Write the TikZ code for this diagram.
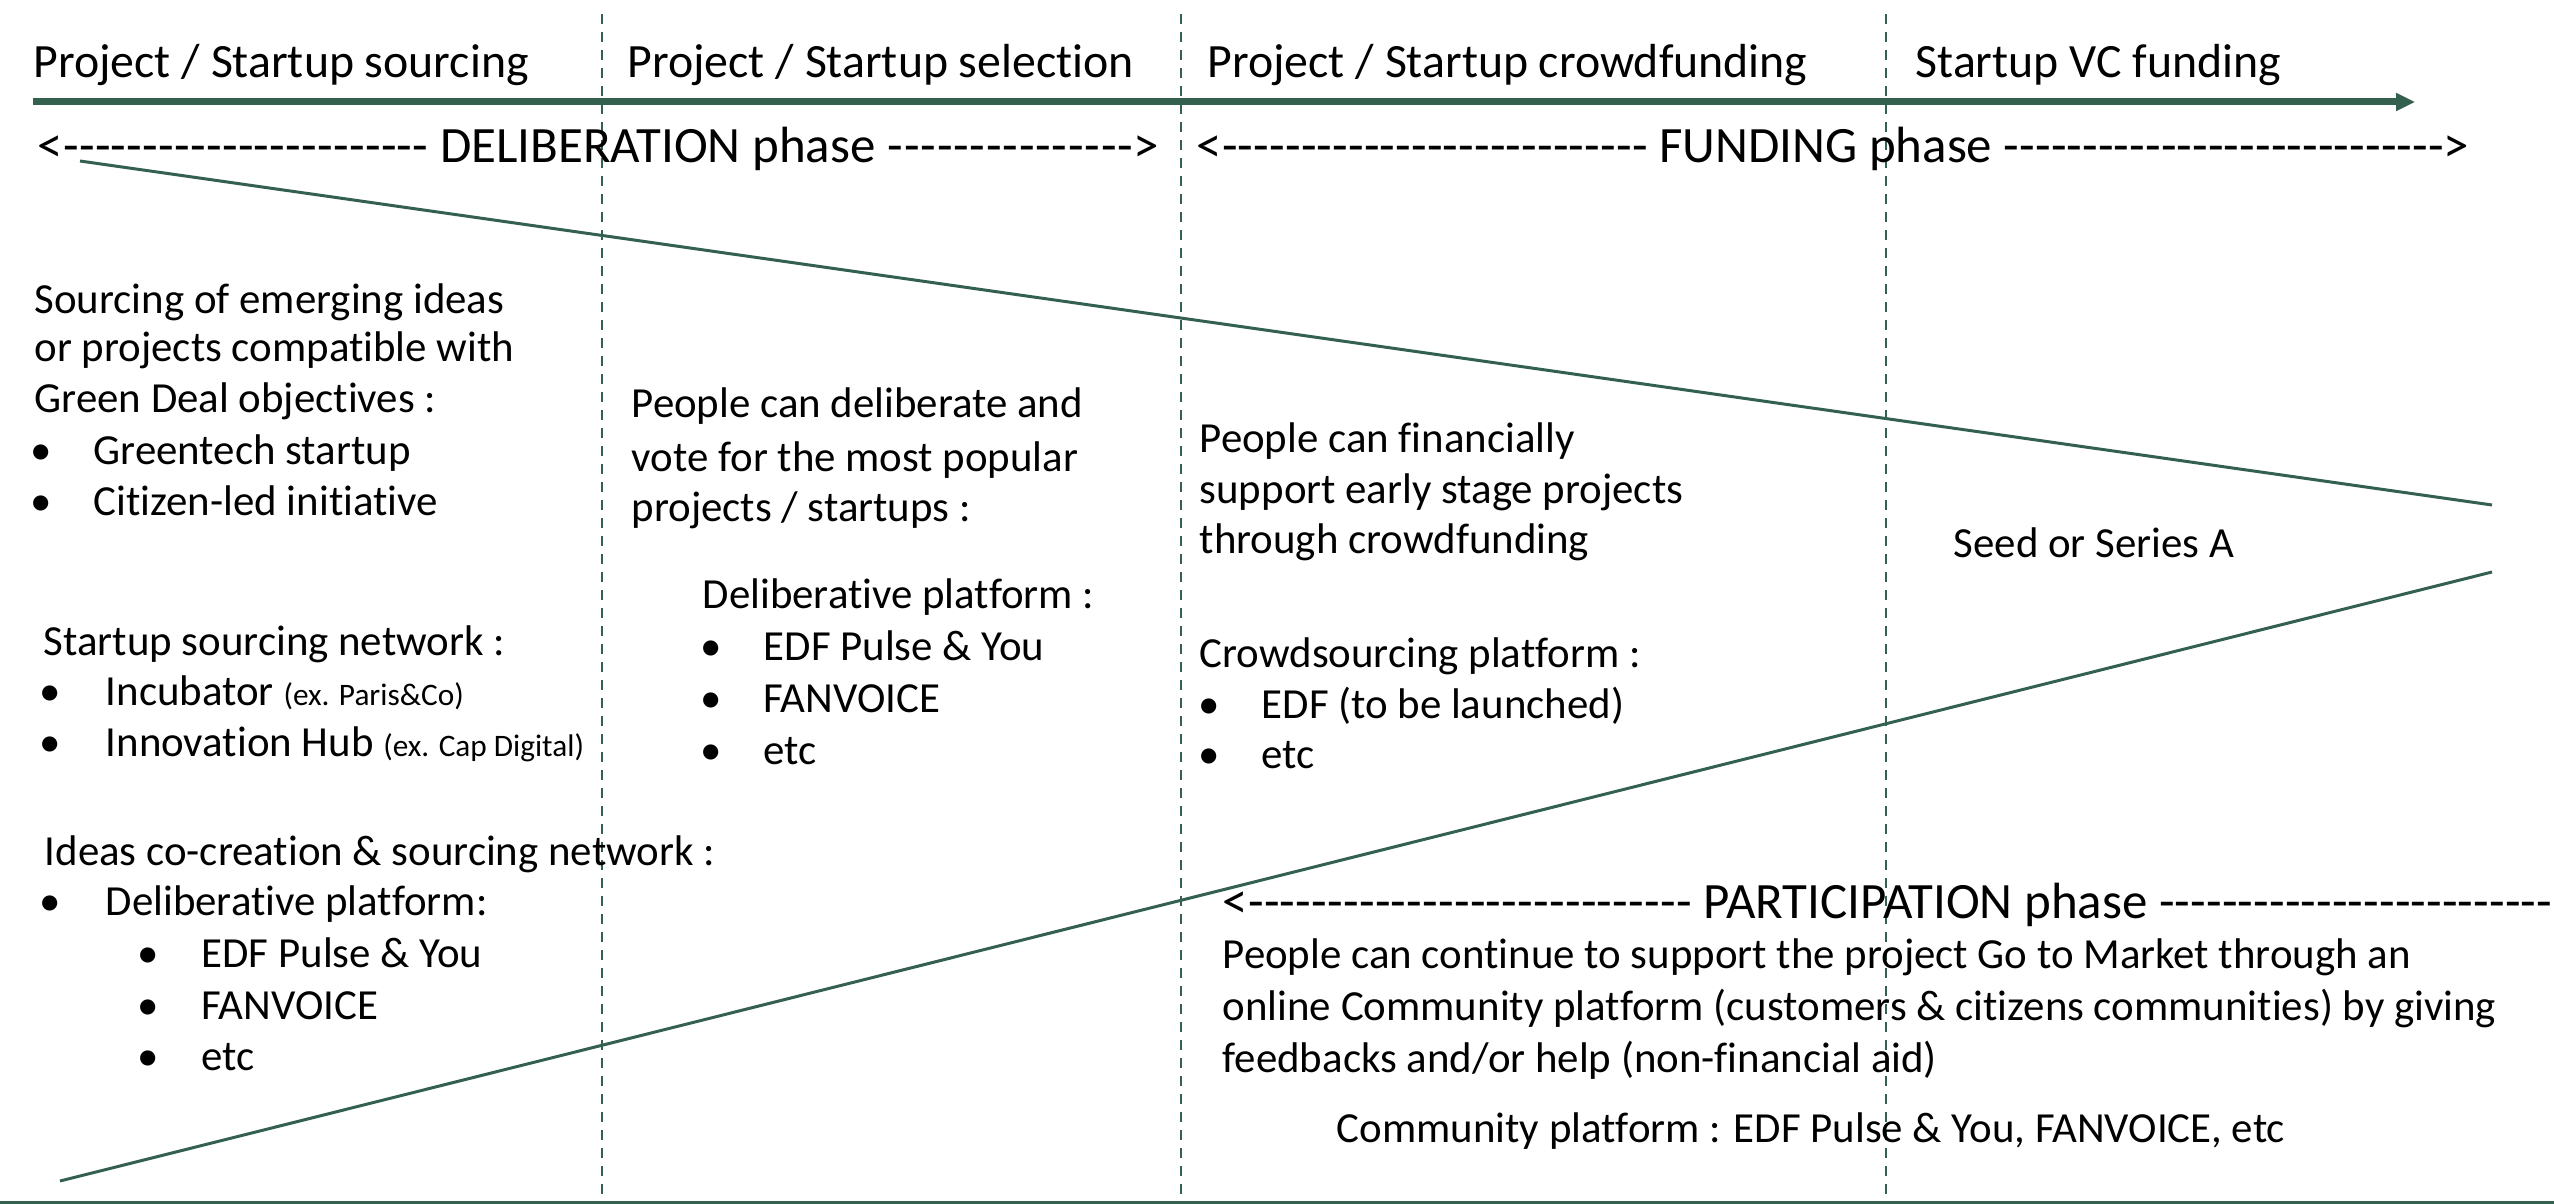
\documentclass[tikz,border=0pt]{standalone}
\usepackage{fontspec}
\setmainfont{Carlito}[Ligatures={NoCommon,NoRare}]
\usetikzlibrary{arrows.meta}
\definecolor{dgreen}{RGB}{52,96,80}
\newcommand{\dashfill}[1]{\xleaders\hbox{-}\hskip 0pt plus #1fil\relax}
\newcommand{\smalltxt}[1]{{\fontsize{8.9pt}{10pt}\selectfont #1}}
\tikzset{
  hdr/.style={anchor=base west, inner sep=0pt, font=\fontsize{13.6pt}{15pt}\selectfont},
  phs/.style={anchor=base west, inner sep=0pt, font=\fontsize{14.5pt}{16pt}\selectfont},
  txt/.style={anchor=base west, inner sep=0pt, font=\fontsize{12.2pt}{14pt}\selectfont},
  bul/.style={anchor=base, inner sep=0pt, font=\fontsize{12.2pt}{14pt}\selectfont},
  vsep/.style={draw=dgreen, line width=0.02cm, dash pattern=on 0.1cm off 0.08cm},
  diag/.style={draw=dgreen, line width=0.03cm},
  timeline/.style={draw=dgreen, line width=0.07cm, -{Triangle[length=0.19cm,width=0.17cm]}},
  baseline/.style={draw=dgreen, line width=0.03cm},
}
\begin{document}
\begin{tikzpicture}[x=1cm,y=-1cm]
\useasboundingbox (0,0) rectangle (25.54,12.04);

% coordinates
\coordinate (arrS) at (0.33,1.02);
\coordinate (arrE) at (24.15,1.02);
\coordinate (v1t) at (6.02,0.14);  \coordinate (v1b) at (6.02,12.04);
\coordinate (v2t) at (11.81,0.14); \coordinate (v2b) at (11.81,12.04);
\coordinate (v3t) at (18.86,0.14); \coordinate (v3b) at (18.86,12.04);
\coordinate (d1s) at (0.80,1.61);  \coordinate (d1e) at (24.92,5.05);
\coordinate (d2s) at (0.60,11.81); \coordinate (d2e) at (24.92,5.72);
\coordinate (bl) at (0,12.02);     \coordinate (br) at (25.54,12.02);

% lines
\draw[vsep] (v1t) -- (v1b);
\draw[vsep] (v2t) -- (v2b);
\draw[vsep] (v3t) -- (v3b);
\draw[timeline] (arrS) -- (arrE);
\draw[diag] (d1s) -- (d1e);
\draw[diag] (d2s) -- (d2e);
\draw[baseline] (bl) -- (br);

% headers
\node[hdr] (h1) at (0.33,0.78) {Project / Startup sourcing};
\node[hdr] (h2) at (6.27,0.78) {Project / Startup selection};
\node[hdr] (h3) at (12.07,0.78) {Project / Startup crowdfunding};
\node[hdr] (h4) at (19.15,0.78) {Startup VC funding};

% phases
\node[phs] (delib) at (0.37,1.63) {\hbox to 11.22cm{<\dashfill{351}\ DELIBERATION phase\ \dashfill{237}>}};
\node[phs] (fund) at (11.96,1.63) {\hbox to 12.73cm{<\dashfill{418}\ FUNDING phase\ \dashfill{432}>}};
\node[phs] (partic) at (12.22,9.18) {\hbox to 13.30cm{<\dashfill{438}\ PARTICIPATION phase\ \dashfill{388}}};

% column 1
\node[txt] (c1a) at (0.34,3.13) {Sourcing of emerging ideas};
\node[txt] (c1b) at (0.34,3.62) {or projects compatible with};
\node[txt] (c1c) at (0.34,4.12) {Green Deal objectives :};
\node[bul] (c1b1) at (0.41,4.64) {\textbullet};
\node[txt] (c1t1) at (0.93,4.64) {Greentech startup};
\node[bul] (c1b2) at (0.41,5.15) {\textbullet};
\node[txt] (c1t2) at (0.93,5.15) {Citizen-led initiative};
\node[txt] (c1d) at (0.43,6.55) {Startup sourcing network :};
\node[bul] (c1b3) at (0.50,7.05) {\textbullet};
\node[txt] (c1t3) at (1.05,7.05) {Incubator \smalltxt{(ex. Paris\&Co)}};
\node[bul] (c1b4) at (0.50,7.56) {\textbullet};
\node[txt] (c1t4) at (1.05,7.56) {Innovation Hub \smalltxt{(ex. Cap Digital)}};
\node[txt] (c1e) at (0.44,8.65) {Ideas co-creation \& sourcing network :};
\node[bul] (c1b5) at (0.50,9.15) {\textbullet};
\node[txt] (c1t5) at (1.05,9.15) {Deliberative platform:};
\node[bul] (c1b6) at (1.48,9.67) {\textbullet};
\node[txt] (c1t6) at (2.01,9.67) {EDF Pulse \& You};
\node[bul] (c1b7) at (1.48,10.19) {\textbullet};
\node[txt] (c1t7) at (2.01,10.19) {FANVOICE};
\node[bul] (c1b8) at (1.48,10.70) {\textbullet};
\node[txt] (c1t8) at (2.01,10.70) {etc};

% column 2
\node[txt] (c2a) at (6.31,4.17) {People can deliberate and};
\node[txt] (c2b) at (6.31,4.71) {vote for the most popular};
\node[txt] (c2c) at (6.31,5.21) {projects / startups :};
\node[txt] (c2d) at (7.02,6.08) {Deliberative platform :};
\node[bul] (c2b1) at (7.11,6.60) {\textbullet};
\node[txt] (c2t1) at (7.63,6.60) {EDF Pulse \& You};
\node[bul] (c2b2) at (7.11,7.12) {\textbullet};
\node[txt] (c2t2) at (7.63,7.12) {FANVOICE};
\node[bul] (c2b3) at (7.11,7.64) {\textbullet};
\node[txt] (c2t3) at (7.63,7.64) {etc};

% column 3
\node[txt] (c3a) at (11.99,4.52) {People can financially};
\node[txt] (c3b) at (11.99,5.03) {support early stage projects};
\node[txt] (c3c) at (11.99,5.53) {through crowdfunding};
\node[txt] (c3d) at (11.99,6.67) {Crowdsourcing platform :};
\node[bul] (c3b1) at (12.09,7.18) {\textbullet};
\node[txt] (c3t1) at (12.61,7.18) {EDF (to be launched)};
\node[bul] (c3b2) at (12.09,7.68) {\textbullet};
\node[txt] (c3t2) at (12.61,7.68) {etc};

% column 4
\node[txt] (c4a) at (19.53,5.57) {Seed or Series A};

% participation
\node[txt] (p1) at (12.22,9.68) {People can continue to support the project Go to Market through an};
\node[txt] (p2) at (12.22,10.20) {online Community platform (customers \& citizens communities) by giving};
\node[txt] (p3) at (12.22,10.72) {feedbacks and/or help (non-financial aid)};
\node[txt] (p4) at (13.36,11.42) {Community platform : EDF Pulse \& You, FANVOICE, etc};
\end{tikzpicture}
\end{document}
